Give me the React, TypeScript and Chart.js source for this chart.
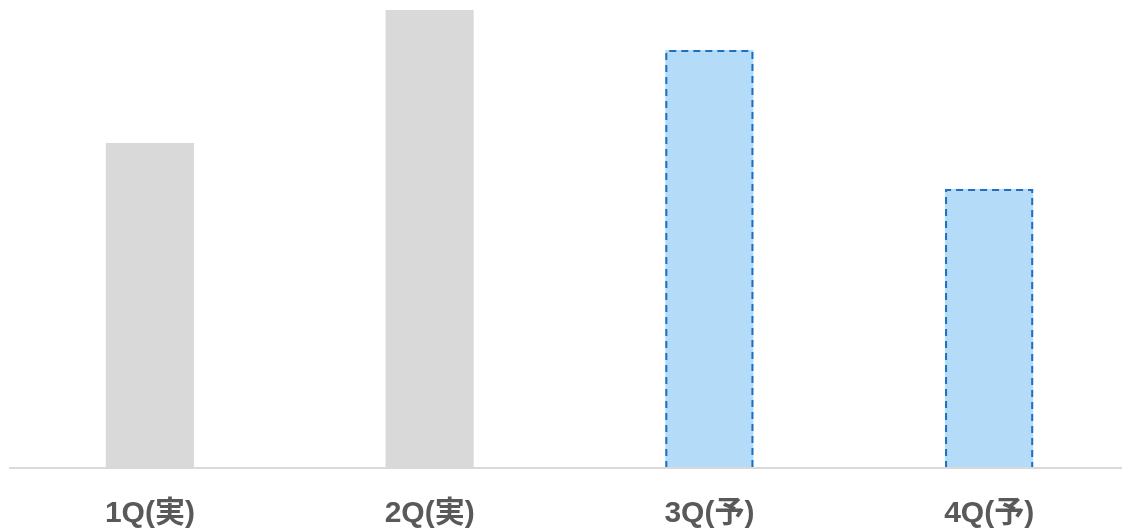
import React, { useEffect, useRef } from "react";
import { Chart, registerables, Plugin } from "chart.js";

Chart.register(...registerables);

// Quarterly values: two actuals, two forecasts
const categories = ["1Q(実)", "2Q(実)", "3Q(予)", "4Q(予)"];
const values = [325, 458, 418, 279];
const isForecast = [false, false, true, true];

const actualFill = "#d9d9d9";
const forecastFill = "#b4dbf8";
const forecastEdge = "#1f6fc1";

// Dashed outline for forecast bars (bar elements have no borderDash option)
const dashedOutline: Plugin<"bar"> = {
  id: "dashedOutline",
  afterDatasetsDraw(chart) {
    const meta = chart.getDatasetMeta(0);
    const ctx = chart.ctx;
    ctx.save();
    ctx.strokeStyle = forecastEdge;
    ctx.lineWidth = 2;
    ctx.setLineDash([7, 5]);
    meta.data.forEach((el: any, i: number) => {
      if (!isForecast[i]) return;
      const { x, y, base, width } = el.getProps(["x", "y", "base", "width"], true);
      const l = x - width / 2 + 1;
      const r = x + width / 2 - 1;
      const t = y + 1;
      ctx.beginPath();
      ctx.moveTo(l, base);
      ctx.lineTo(l, t);
      ctx.lineTo(r, t);
      ctx.lineTo(r, base);
      ctx.stroke();
    });
    ctx.restore();
  },
};

export default function App() {
  const ref = useRef<HTMLCanvasElement | null>(null);

  useEffect(() => {
    if (!ref.current) return;
    const chart = new Chart(ref.current, {
      type: "bar",
      data: {
        labels: categories,
        datasets: [
          {
            data: values,
            backgroundColor: isForecast.map((f) => (f ? forecastFill : actualFill)),
            borderWidth: 0,
            categoryPercentage: 1,
            barPercentage: 0.315,
          },
        ],
      },
      options: {
        responsive: false,
        animation: false,
        layout: { padding: { left: 10, right: 0, top: 10, bottom: 0 } },
        plugins: { legend: { display: false }, tooltip: { enabled: false } },
        scales: {
          x: {
            grid: { display: false, drawTicks: false },
            border: { display: true, color: "#d9d9d9", width: 2, z: 1 },
            afterFit: (scale: any) => {
              scale.height = 64;
            },
            ticks: {
              color: "#595959",
              padding: 28,
              font: {
                family: "'Liberation Sans', Arial, 'Noto Sans CJK JP', sans-serif",
                size: 30,
                weight: "bold",
              },
            },
          },
          y: { display: false, min: 0, max: 458 },
        },
      },
      plugins: [dashedOutline],
    });
    return () => chart.destroy();
  }, []);

  return (
    <div
      style={{
        position: "fixed",
        left: 0,
        top: 0,
        width: 1122,
        height: 532,
        overflow: "hidden",
        background: "#ffffff",
      }}
    >
      <canvas ref={ref} width={1129} height={532} style={{ display: "block" }} />
    </div>
  );
}
